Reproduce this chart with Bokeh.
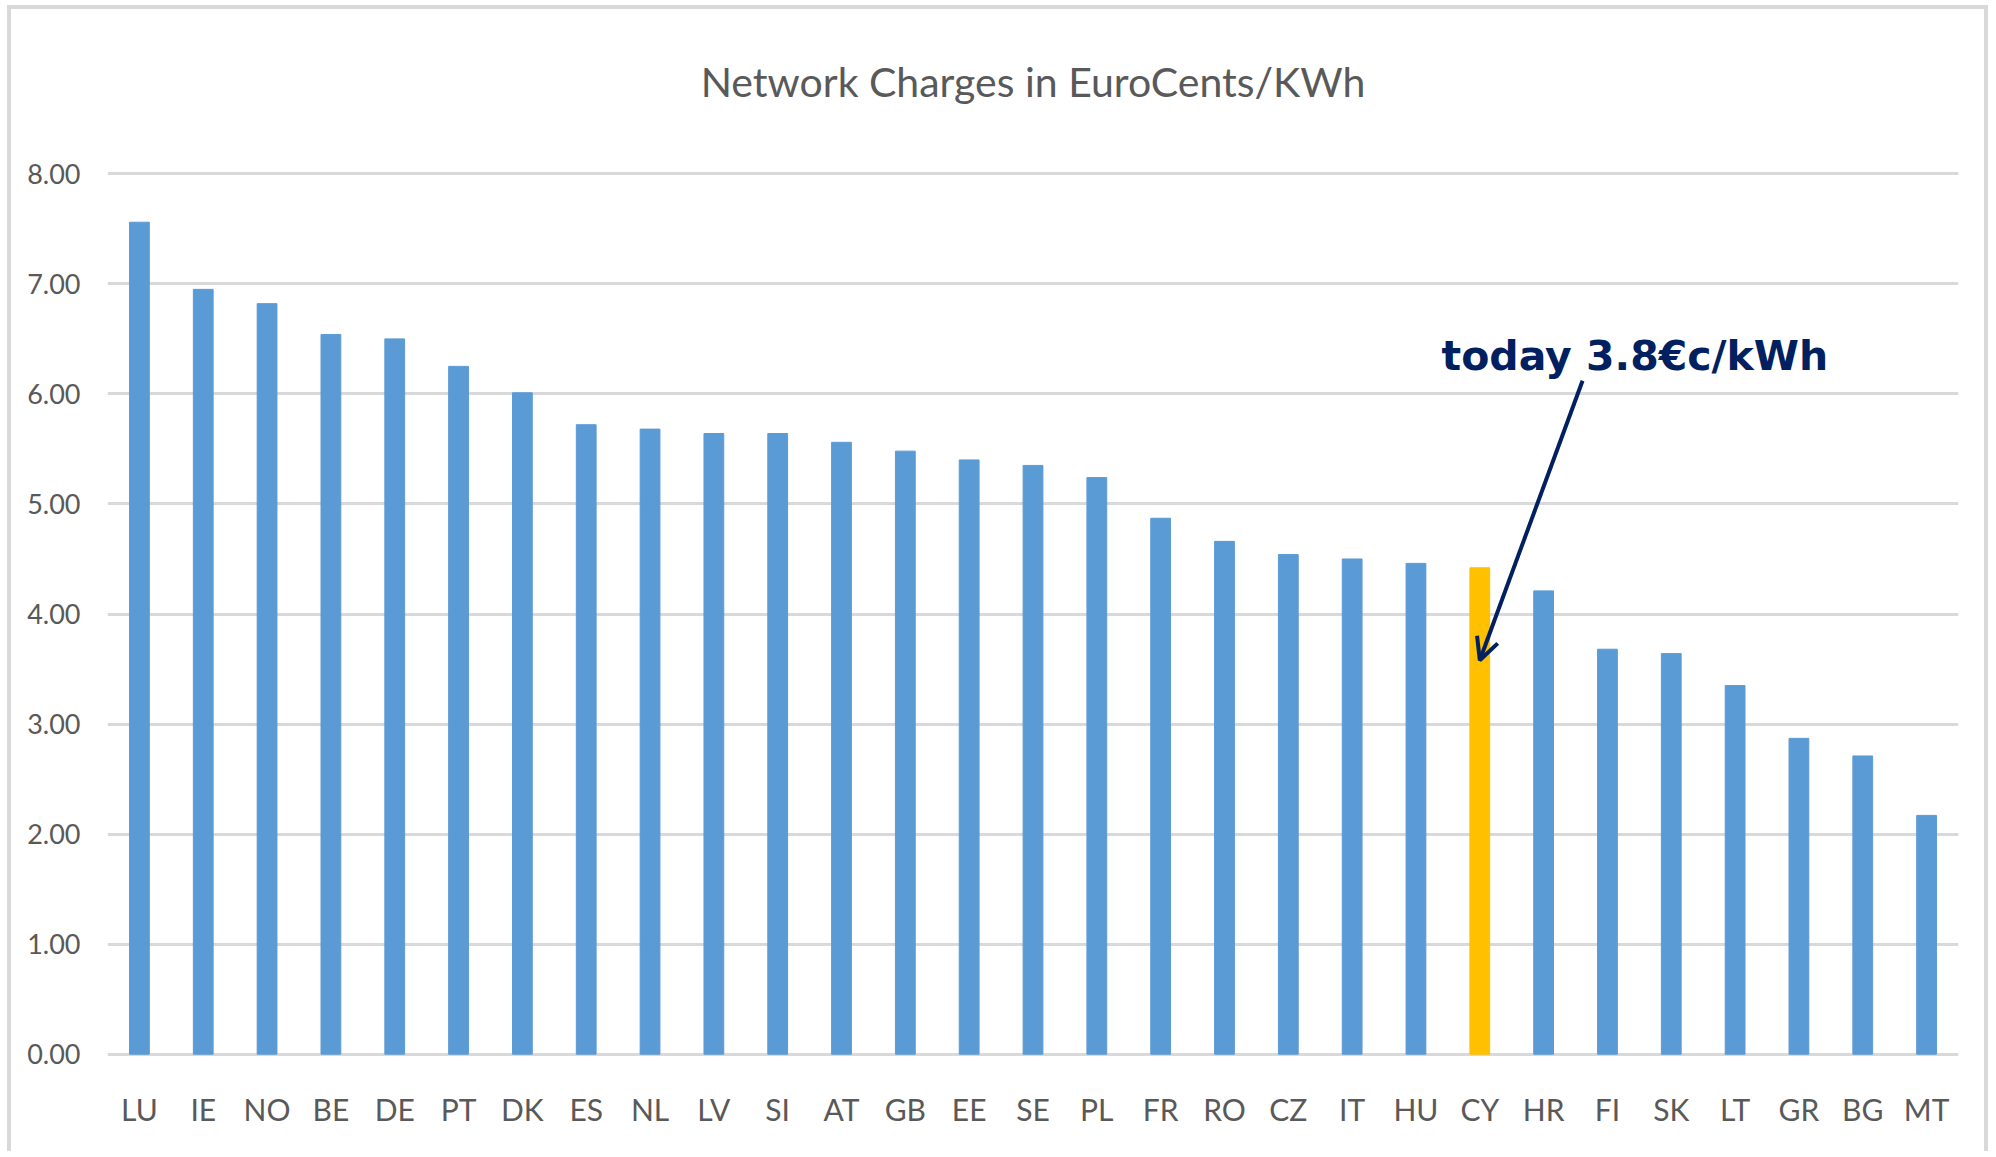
from bokeh.plotting import figure
from bokeh.models import ColumnDataSource, Range1d, FactorRange, Label, Arrow, OpenHead, NumeralTickFormatter, FixedTicker, Title
from bokeh.embed import file_html
from bokeh.resources import INLINE

title = "Network Charges in EuroCents/KWh"
countries = ["LU", "IE", "NO", "BE", "DE", "PT", "DK", "ES", "NL", "LV", "SI", "AT", "GB", "EE",
             "SE", "PL", "FR", "RO", "CZ", "IT", "HU", "CY", "HR", "FI", "SK", "LT", "GR", "BG", "MT"]
charges = [7.56, 6.95, 6.82, 6.54, 6.50, 6.25, 6.01, 5.72, 5.68, 5.64, 5.64, 5.56, 5.48, 5.40,
           5.35, 5.24, 4.87, 4.66, 4.54, 4.50, 4.46, 4.42, 4.21, 3.68, 3.64, 3.35, 2.87, 2.71, 2.17]
highlight = "CY"
annotation = "today 3.8€c/kWh"
y_ticks = [0, 1, 2, 3, 4, 5, 6, 7, 8]

BLUE = "#5b9bd5"
GOLD = "#ffc000"
NAVY = "#002060"
GRAY_TXT = "#595959"
GRID = "#d9d9d9"

colors = [GOLD if c == highlight else BLUE for c in countries]
src = ColumnDataSource(dict(x=countries, top=charges, color=colors))

p = figure(width=1981, height=1146, x_range=FactorRange(*countries, range_padding=0),
           y_range=Range1d(-0.03, 8.03), output_backend="svg", toolbar_location=None,
           min_border_left=96, min_border_right=34, min_border_top=161, min_border_bottom=98)
p.styles = {"border-top": "4px solid #d9d9d9", "border-left": "4px solid #d9d9d9",
            "border-right": "4px solid #d9d9d9", "margin-left": "7px", "margin-top": "5px"}

p.vbar(x="x", top="top", bottom=0, width=0.31, color="color", source=src)

# spacer panel between the title and the plot frame
p.add_layout(Title(text=" ", text_font_size="2px", standoff=16), "above")

p.title.text = title
p.title.align = "center"
p.title.text_font = "Lato"
p.title.text_font_size = "41px"
p.title.text_font_style = "normal"
p.title.text_color = GRAY_TXT
p.title.standoff = 90

p.outline_line_color = None
p.xgrid.grid_line_color = None
p.ygrid.grid_line_color = GRID
p.ygrid.grid_line_width = 3
p.ygrid.level = "underlay"

p.yaxis.ticker = FixedTicker(ticks=y_ticks)
p.yaxis.formatter = NumeralTickFormatter(format="0.00")
for ax in (p.xaxis[0], p.yaxis[0]):
    ax.axis_line_color = None
    ax.major_tick_line_color = None
    ax.minor_tick_line_color = None
    ax.major_label_text_font = "Lato"
    ax.major_label_text_color = GRAY_TXT
p.yaxis.major_label_text_font_size = "27px"
p.yaxis.major_label_standoff = 21
p.xaxis.major_label_text_font_size = "30px"
p.xaxis.major_label_standoff = 27

ci = countries.index(highlight) + 0.5
p.add_layout(Arrow(end=OpenHead(size=22, line_color=NAVY, line_width=4),
                   x_start=ci + 1.61, y_start=6.12, x_end=ci, y_end=3.58,
                   line_color=NAVY, line_width=4))
p.add_layout(Label(x=ci + 2.43, y=6.34, text=annotation, text_align="center",
                   text_baseline="alphabetic", text_font="DejaVu Sans", text_font_style="bold",
                   text_font_size="41px", text_color=NAVY))

open("out.html", "w").write(file_html(p, INLINE))
